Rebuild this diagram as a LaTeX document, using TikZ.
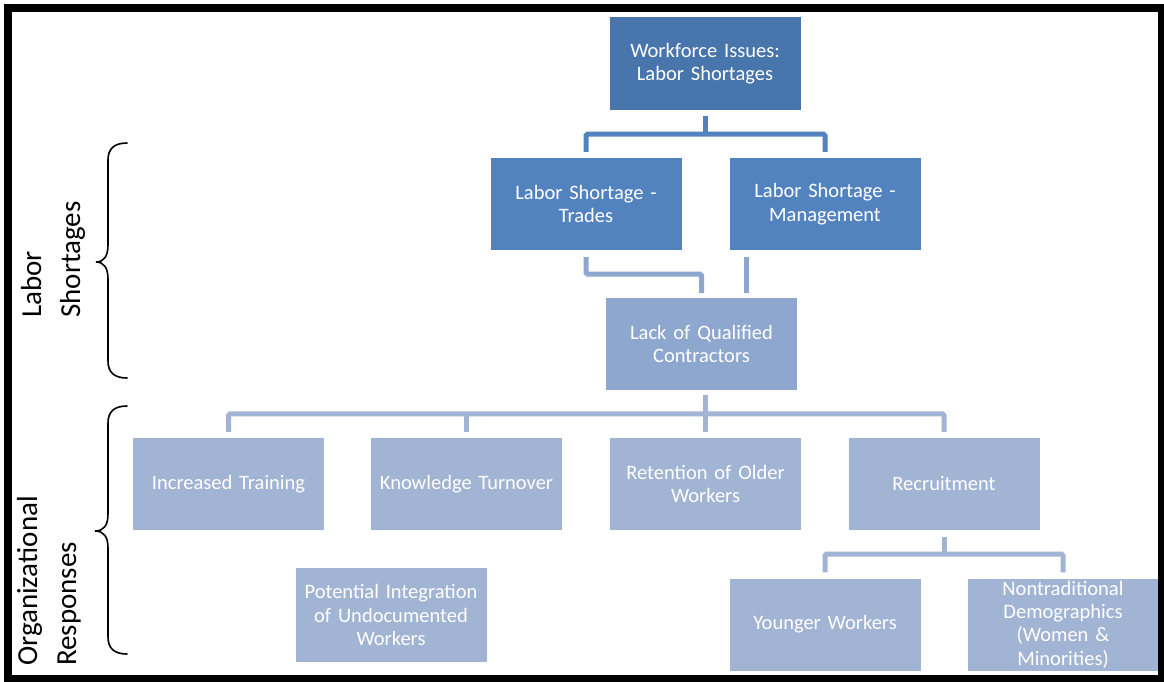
\documentclass[tikz,border=0pt]{standalone}
\usepackage{fontspec}
\setmainfont{Carlito}
\usetikzlibrary{calc}
\definecolor{cA}{RGB}{72,117,172}
\definecolor{cB}{RGB}{82,131,191}
\definecolor{cC}{RGB}{142,167,207}
\definecolor{cD}{RGB}{162,180,212}
\begin{document}
\begin{tikzpicture}[x=1pt,y=-1pt,
  box/.style={rectangle, minimum width=191pt, minimum height=92pt, inner sep=2pt,
    text width=187pt, align=center, text=white,
    font=\fontsize{20.5}{23.3}\selectfont},
  lnA/.style={draw=cB, line width=5pt, rounded corners=1.5pt},
  lnB/.style={draw=cC, line width=5pt, rounded corners=1.5pt},
  lnC/.style={draw=cD, line width=5pt, rounded corners=1.5pt},
  bracepath/.style={draw=black, line width=1.6pt, line cap=round},
  sidelabel/.style={rotate=90, align=left, inner sep=0pt, anchor=west,
    font=\fontsize{29}{39}\selectfont}
]
\useasboundingbox (0,0) rectangle (1164,681);
\fill[white] (0,0) rectangle (1164,681);

% boxes
\node[box, fill=cA, minimum height=93pt] (top) at (705,63.5) {Workforce Issues:\\Labor Shortages};
\node[box, fill=cB] (trades) at (586,204) {Labor Shortage -\\Trades};
\node[box, fill=cB] (mgmt) at (825,204) {Labor Shortage -\\Management};
\node[box, fill=cC] (lack) at (701.5,344) {Lack of Qualified\\Contractors};
\node[box, fill=cD] (train) at (228.5,484) {Increased Training};
\node[box, fill=cD] (know) at (466.5,484) {Knowledge Turnover};
\node[box, fill=cD] (ret) at (705.5,484) {Retention of Older\\Workers};
\node[box, fill=cD] (recr) at (944,484) {Recruitment};
\node[box, fill=cD, minimum height=94pt] (undoc) at (391,615) {Potential Integration\\of Undocumented\\Workers};
\node[box, fill=cD] (young) at (825,624.5) {Younger Workers};
\node[box, fill=cD] (nontrad) at (1063,624.5) {Nontraditional\\Demographics\\(Women \&\\Minorities)};

% helper coordinates
\coordinate (topout) at ([yshift=-6pt]top.south);
\coordinate (topbar) at ([yshift=-24pt]top.south);
\coordinate (lackin) at ([yshift=5pt]lack.north);
\coordinate (mgmtout) at ([shift={(17pt,-7pt)}]mgmt.south west);
\coordinate (lackout) at ([yshift=-5pt]lack.south);
\coordinate (rowbar) at ([yshift=24pt]train.north);
\coordinate (recrout) at ([yshift=-7pt]recr.south);
\coordinate (recrbar) at ([yshift=-24pt]recr.south);

% connectors
\draw[lnA] (topout) -- (topbar);
\draw[lnA] ([yshift=6pt]trades.north) |- (topbar) -| ([yshift=6pt]mgmt.north);

\draw[lnB] ([yshift=-7pt]trades.south) -- ++(0,17) -| (lackin);
\draw[lnB] (mgmtout) -- (mgmtout |- lackin);

\draw[lnC] (lackout -| ret.north) -- ([yshift=6pt]ret.north);
\draw[lnC] ([yshift=6pt]train.north) -- (rowbar) -| ([yshift=6pt]recr.north);
\draw[lnC] ([yshift=6pt]know.north) -- (know.north |- rowbar);

\draw[lnC] (recrout) -- (recrbar);
\draw[lnC] ([yshift=6pt]young.north) |- (recrbar) -| ([yshift=6pt]nontrad.north);

% braces
\draw[bracepath] (127,143) .. controls (114,143) and (108,149) .. (108,160) -- (108,245)
  .. controls (108,256) and (104,262) .. (96,262)
  .. controls (104,262) and (108,268) .. (108,279) -- (108,361)
  .. controls (108,372) and (114,378) .. (127,378);
\draw[bracepath] (127,406) .. controls (114,406) and (108,412) .. (108,423) -- (108,514)
  .. controls (108,525) and (104,531) .. (95,531)
  .. controls (104,531) and (108,537) .. (108,548) -- (108,637)
  .. controls (108,648) and (114,654) .. (127,654);

% side labels
\node[sidelabel] (lablab) at (53,318) {Labor\\Shortages};
\node[sidelabel] (orglab) at (49,666) {Organizational\\Responses};

% frame
\draw[line width=8pt] (8,8) rectangle (1162,679);
\end{tikzpicture}
\end{document}
